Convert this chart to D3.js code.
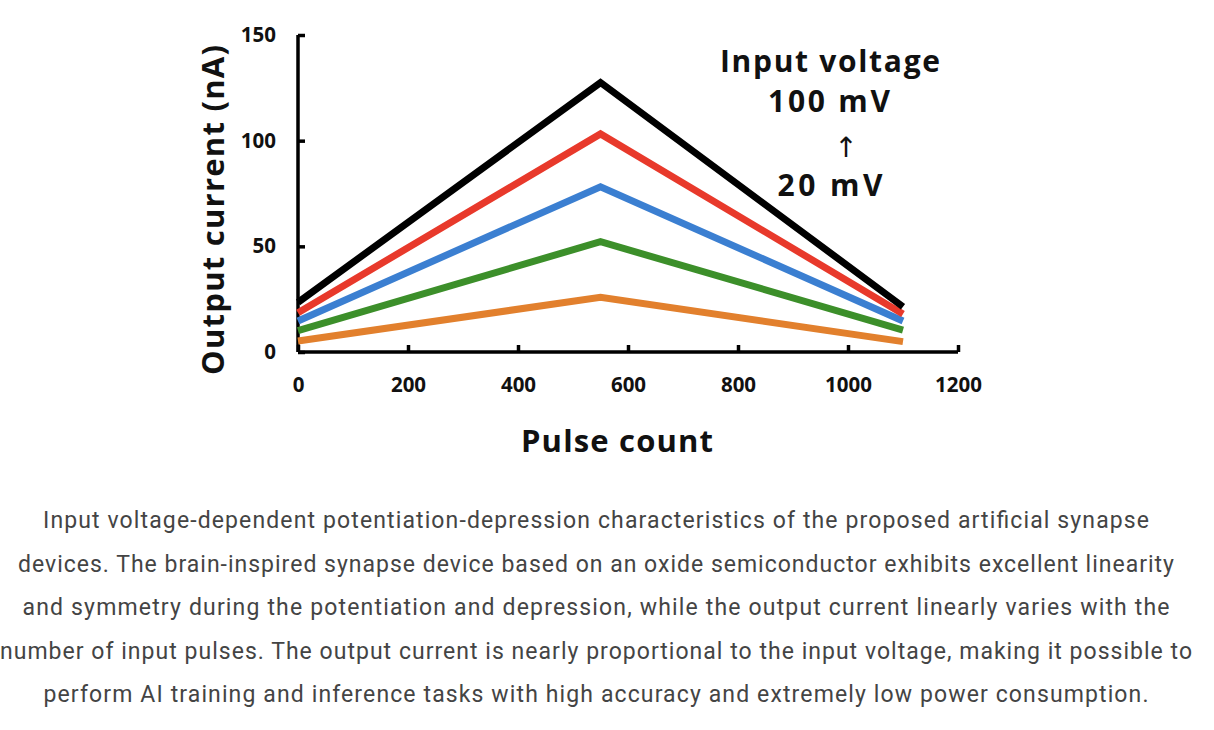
<!DOCTYPE html>
<html><head><meta charset="utf-8">
<script src="https://cdn.jsdelivr.net/npm/d3@7"></script>
<style>
body{margin:0;background:#fff;}
svg{display:block;}
</style></head>
<body>
<svg id="chart" width="1214" height="730"></svg>
<script>
// ---- data ----
const pulseCounts = [0, 550, 1100];
const seriesNames = ["100 mV", "80 mV", "60 mV", "40 mV", "20 mV"];
const seriesColors = ["#000000", "#e8392b", "#3b7fd1", "#3c8f2a", "#e2802d"];
const current100 = [23.5, 127.5, 21.4];
const current80  = [18.6, 103.2, 18.0];
const current60  = [14.7, 78.2, 14.7];
const current40  = [10.1, 52.2, 10.4];
const current20  = [5.2, 25.9, 4.9];
const xTicks = [0, 200, 400, 600, 800, 1000, 1200];
const yTicks = [0, 50, 100, 150];
const captionLines = [
  "Input voltage-dependent potentiation-depression characteristics of the proposed artificial synapse",
  "devices. The brain-inspired synapse device based on an oxide semiconductor exhibits excellent linearity",
  "and symmetry during the potentiation and depression, while the output current linearly varies with the",
  "number of input pulses. The output current is nearly proportional to the input voltage, making it possible to",
  "perform AI training and inference tasks with high accuracy and extremely low power consumption."
];
const legendLines = ["Input voltage", "100 mV", "\u2191", "20 mV"];

const allSeries = [current100, current80, current60, current40, current20];

const svg = d3.select("#chart");
const x = d3.scaleLinear().domain([0, 1200]).range([298, 958]);
const y = d3.scaleLinear().domain([0, 150]).range([352, 35]);
const chartFont = "'Open Sans', sans-serif";

// axes
const xAxis = svg.append("g").attr("transform", `translate(0,${y(0)})`)
  .call(d3.axisBottom(x).tickValues(xTicks).tickFormat(d3.format("d")).tickSizeInner(-7).tickSizeOuter(0).tickPadding(25));
const yAxis = svg.append("g").attr("transform", `translate(${x(0)},0)`)
  .call(d3.axisLeft(y).tickValues(yTicks).tickFormat(d3.format("d")).tickSizeInner(-7).tickSizeOuter(0).tickPadding(22));
[xAxis, yAxis].forEach(g => {
  g.select(".domain").attr("stroke", "#000").attr("stroke-width", 3.5);
  g.selectAll(".tick line").attr("stroke", "#000").attr("stroke-width", 3.5);
  g.selectAll(".tick text").attr("fill", "#111").style("font-family", chartFont)
    .style("font-weight", "700").style("font-size", "20.5px");
});
xAxis.select(".domain").attr("d", `M${x(0)},0H${x(1200)}`);
yAxis.select(".domain").attr("d", `M0,${y(0)}V${y(150)}`);

// lines
const line = d3.line().x((d, i) => x(pulseCounts[i])).y(d => y(d));
svg.append("g").selectAll("path").data(allSeries.slice().reverse()).join("path")
  .attr("d", d => line(d))
  .attr("fill", "none")
  .attr("stroke", (d, i) => seriesColors[seriesColors.length - 1 - i])
  .attr("stroke-width", 7)
  .attr("stroke-linejoin", "miter");

// axis titles
svg.append("text").attr("x", 617).attr("y", 452).attr("text-anchor", "middle")
  .style("font-family", chartFont).style("font-weight", "700").style("font-size", "31px")
  .attr("fill", "#111").attr("textLength", 192).attr("lengthAdjust", "spacing").text("Pulse count");
svg.append("text").attr("transform", "translate(224,210) rotate(-90)").attr("text-anchor", "middle")
  .style("font-family", chartFont).style("font-weight", "700").style("font-size", "31px")
  .attr("fill", "#111").attr("textLength", 330).attr("lengthAdjust", "spacing").text("Output current (nA)");

// annotation
const annY = [72, 112, 157, 196];
const annX = [830, 829, 846, 830];
const annW = [220, 122, null, 105];
svg.append("g").selectAll("text").data(legendLines).join("text")
  .attr("x", (d, i) => annX[i]).attr("y", (d, i) => annY[i]).attr("text-anchor", "middle")
  .style("font-family", (d, i) => i === 2 ? "'DejaVu Sans', sans-serif" : chartFont)
  .style("font-weight", (d, i) => i === 2 ? "400" : "700")
  .style("font-size", (d, i) => i === 2 ? "28px" : "30px")
  .attr("textLength", (d, i) => annW[i]).attr("lengthAdjust", "spacing")
  .attr("fill", "#111").text(d => d);

// caption
const capW = [1106, 1156, 1147, 1192, 1105];
svg.append("g").selectAll("text").data(captionLines).join("text")
  .attr("x", 596).attr("y", (d, i) => 528 + i * 43.5).attr("text-anchor", "middle")
  .style("font-family", "Roboto, sans-serif").style("font-size", "23px")
  .attr("textLength", (d, i) => capW[i]).attr("lengthAdjust", "spacing")
  .attr("fill", "#444").text(d => d);
</script>
</body></html>
